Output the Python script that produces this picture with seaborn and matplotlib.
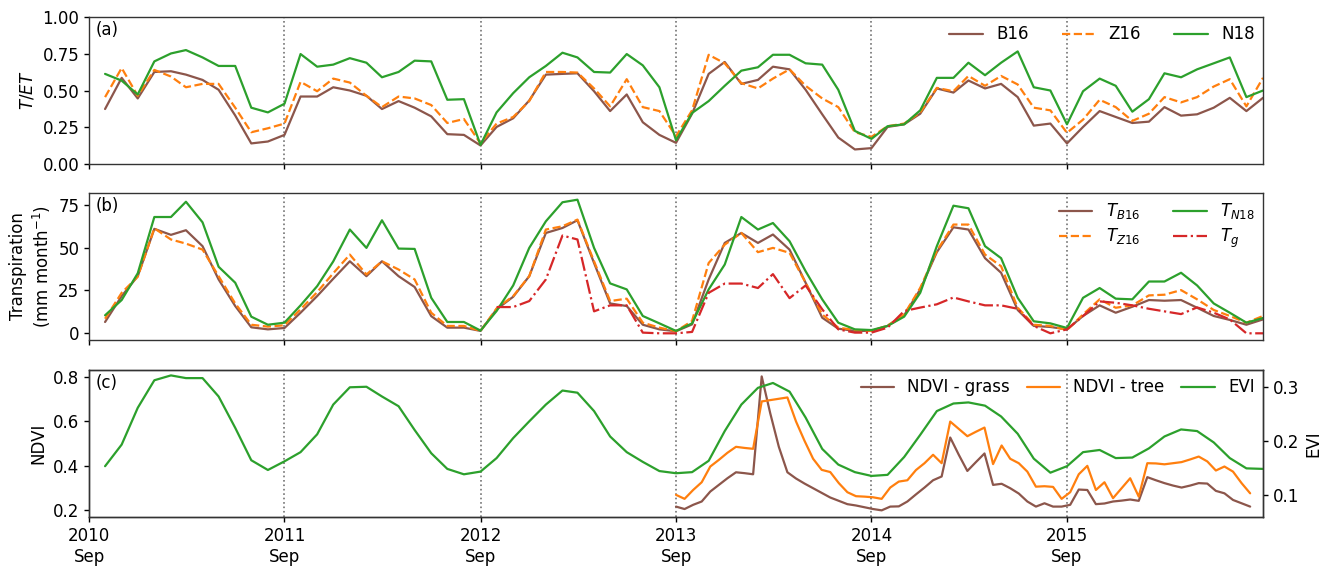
import numpy as np
import pandas as pd
import matplotlib
matplotlib.use("Agg")
import matplotlib.pyplot as plt
import seaborn as sns

# ---------------- data ----------------
# monthly series, Oct 2010 ... Sep 2016 (72 months)
tet_b16 = [0.374, 0.586, 0.446, 0.626, 0.631, 0.608, 0.572, 0.505, 0.33, 0.14, 0.153, 0.198,
           0.459, 0.459, 0.522, 0.50, 0.464, 0.374, 0.428, 0.383, 0.324, 0.203, 0.198, 0.126,
           0.252, 0.311, 0.432, 0.608, 0.613, 0.617, 0.495, 0.36, 0.473, 0.284, 0.198, 0.144,
           0.342, 0.613, 0.694, 0.545, 0.572, 0.662, 0.644, 0.505, 0.338, 0.18, 0.099, 0.108,
           0.252, 0.27, 0.342, 0.514, 0.486, 0.568, 0.514, 0.545, 0.455, 0.261, 0.275, 0.14,
           0.252, 0.36, 0.32, 0.279, 0.288, 0.387, 0.329, 0.338, 0.383, 0.45, 0.36, 0.45]
tet_z16 = [0.455, 0.653, 0.464, 0.64, 0.595, 0.522, 0.545, 0.545, 0.383, 0.216, 0.243, 0.275,
           0.559, 0.495, 0.581, 0.554, 0.464, 0.387, 0.459, 0.446, 0.401, 0.279, 0.306, 0.14,
           0.275, 0.32, 0.428, 0.626, 0.626, 0.622, 0.514, 0.392, 0.577, 0.387, 0.36, 0.189,
           0.365, 0.743, 0.685, 0.55, 0.514, 0.581, 0.644, 0.532, 0.446, 0.387, 0.216, 0.185,
           0.257, 0.275, 0.351, 0.518, 0.495, 0.599, 0.532, 0.599, 0.541, 0.383, 0.365, 0.212,
           0.302, 0.437, 0.387, 0.293, 0.342, 0.455, 0.419, 0.455, 0.527, 0.577, 0.392, 0.586]
tet_n18 = [0.613, 0.567, 0.473, 0.698, 0.752, 0.775, 0.725, 0.667, 0.667, 0.383, 0.351, 0.41,
           0.748, 0.662, 0.676, 0.72, 0.689, 0.59, 0.626, 0.703, 0.698, 0.437, 0.441, 0.13,
           0.351, 0.482, 0.59, 0.667, 0.757, 0.725, 0.626, 0.622, 0.748, 0.671, 0.522, 0.162,
           0.347, 0.428, 0.532, 0.635, 0.658, 0.743, 0.743, 0.685, 0.676, 0.505, 0.225, 0.171,
           0.257, 0.27, 0.365, 0.586, 0.586, 0.689, 0.604, 0.689, 0.766, 0.522, 0.5, 0.27,
           0.495, 0.581, 0.532, 0.356, 0.441, 0.617, 0.59, 0.644, 0.685, 0.725, 0.455, 0.5]

t_b16 = [6.6, 21.7, 33.3, 60.9, 57.4, 60.1, 50.8, 31.4, 15.9, 3.5, 2.3, 3.1,
         12, 21.7, 31.8, 42, 33.3, 42, 33.3, 27, 10, 3.3, 3.3, 1.4,
         14, 21.3, 33.3, 58.5, 61.4, 65.9, 41, 17.4, 15.9, 5, 2.3, 1.2,
         5.2, 31.4, 52.7, 58.5, 52.7, 57.6, 48.8, 29.5, 9.1, 2.7, 1.4, 1.4,
         4.3, 10.5, 25.6, 47.3, 61.8, 60.5, 43.8, 35.3, 13.6, 4.3, 3.7, 2.3,
         10.1, 16.3, 12, 15.5, 19.4, 19, 19.4, 14.9, 10.1, 7.8, 5, 8.1]
t_z16 = [8.5, 23.6, 33, 61.2, 54.7, 52.3, 48.8, 33.3, 17.4, 5, 3.9, 4.7,
         14, 24, 35, 45.9, 34.3, 42, 37.2, 31.4, 12, 4.3, 4.3, 1.4,
         14.5, 21.7, 33.3, 60.5, 62.4, 66.3, 42, 18.8, 20.2, 6.2, 3.3, 1.2,
         7.2, 41, 51.7, 58.5, 47.3, 49.8, 46.9, 29.5, 11, 3.3, 1.9, 1.4,
         4.5, 11, 26.5, 48, 63.4, 63.4, 45.9, 39.1, 14.9, 5, 4.3, 1.9,
         11, 19.8, 14.9, 16.3, 22.1, 22.5, 25.2, 19.8, 13.6, 10.1, 6.2, 10.1]
t_n18 = [10.5, 19.4, 35, 67.8, 67.8, 76.7, 64.7, 38.8, 29.5, 9.7, 5.0, 6.2,
         16.3, 27.5, 41.9, 60.5, 49.8, 65.9, 49.4, 49.2, 20.7, 6.6, 6.6, 1.6,
         13, 27.9, 49.8, 65.3, 76.4, 77.9, 49.8, 29.1, 25.6, 10.1, 5.8, 1.4,
         5.8, 25.6, 40.1, 67.8, 60.5, 64.3, 53.7, 36.2, 19.8, 6.2, 2.3, 1.9,
         4.3, 9.7, 23.6, 50.8, 74.4, 72.9, 50.8, 43.8, 20.7, 7, 5.8, 3.1,
         20.7, 26.4, 20.2, 19.8, 30.2, 30.2, 35.3, 27.9, 17.4, 12, 6.2, 8.9]
t_g = [np.nan] * 24 + [
         15.3, 15.3, 18.8, 31.4, 57, 54.7, 12.8, 16.3, 16.3, 0.4, 0, 0,
         0.8, 23.6, 29, 29, 26.4, 34.5, 20.5, 27.9, 14, 2.3, 0.4, 0.4,
         3.3, 13, 15, 16.9, 20.9, 18.6, 16.3, 16.3, 14.3, 4.3, 0, 2.3,
         10.1, 18.6, 17.8, 16.3, 14.3, 12.8, 11.2, 15.1, 12, 8.1, 0, 0]

evi = [0.153, 0.193, 0.261, 0.312, 0.321, 0.316, 0.316, 0.282, 0.224, 0.164, 0.146, 0.162,
       0.179, 0.212, 0.267, 0.299, 0.300, 0.282, 0.264, 0.220, 0.177, 0.148, 0.138, 0.143,
       0.168, 0.205, 0.236, 0.267, 0.293, 0.289, 0.255, 0.208, 0.179, 0.161, 0.144, 0.140,
       0.142, 0.163, 0.218, 0.267, 0.298, 0.307, 0.291, 0.243, 0.185, 0.156, 0.142, 0.135,
       0.137, 0.170, 0.211, 0.255, 0.269, 0.271, 0.265, 0.245, 0.213, 0.167, 0.141, 0.153,
       0.179, 0.183, 0.168, 0.169, 0.186, 0.208, 0.221, 0.218, 0.197, 0.168, 0.149, 0.148]

# 16-day NDVI composites from Sep 2013
ndvi_tree = [0.268, 0.250, 0.290, 0.325, 0.396, 0.426, 0.458, 0.485, 0.480, 0.476,
             0.690, 0.696, 0.702, 0.708, 0.600, 0.512, 0.431, 0.381, 0.371, 0.321,
             0.280, 0.262, 0.260, 0.257, 0.250, 0.301, 0.328, 0.334, 0.380, 0.411,
             0.449, 0.411, 0.599, 0.566, 0.533, 0.553, 0.572, 0.407, 0.491, 0.431,
             0.411, 0.373, 0.305, 0.307, 0.304, 0.250, 0.280, 0.361, 0.399, 0.290,
             0.325, 0.253, 0.298, 0.343, 0.260, 0.411, 0.410, 0.406, 0.411, 0.416,
             0.428, 0.441, 0.419, 0.378, 0.396, 0.373, 0.321, 0.275]
ndvi_grass = [0.215, 0.204, 0.223, 0.238, 0.283, 0.313, 0.343, 0.370, 0.366, 0.361,
              0.803, 0.636, 0.485, 0.370, 0.342, 0.319, 0.298, 0.277, 0.256, 0.241,
              0.226, 0.220, 0.212, 0.204, 0.198, 0.215, 0.216, 0.238, 0.270, 0.301,
              0.334, 0.351, 0.527, 0.449, 0.376, 0.416, 0.455, 0.313, 0.318, 0.298,
              0.274, 0.238, 0.215, 0.230, 0.215, 0.215, 0.223, 0.292, 0.290, 0.226,
              0.229, 0.238, 0.242, 0.247, 0.241, 0.348, 0.334, 0.321, 0.310, 0.301,
              0.310, 0.321, 0.319, 0.286, 0.275, 0.245, 0.230, 0.215]

tick_years = [2010, 2011, 2012, 2013, 2014, 2015]
tick_labels = [f"{y}\nSep" for y in tick_years]

months = pd.date_range("2010-10-01", periods=len(tet_b16), freq="MS")
ndvi_dates = pd.Timestamp("2013-09-01") + pd.to_timedelta(np.arange(len(ndvi_tree)) * 16, unit="D")
tick_dates = [pd.Timestamp(f"{y}-09-01") for y in tick_years]

# ---------------- style ----------------
sns.set_theme(style="ticks")
plt.rcParams.update({
    "font.family": ["DejaVu Sans"],
    "font.size": 12,
    "axes.labelsize": 12,
    "xtick.labelsize": 12,
    "ytick.labelsize": 12,
    "legend.fontsize": 12,
    "axes.linewidth": 1.0,
    "axes.labelpad": 4.0,
    "xtick.major.size": 3.5,
    "ytick.major.size": 3.5,
    "xtick.major.pad": 3.5,
    "ytick.major.pad": 3.5,
    "xtick.major.width": 1.0,
    "ytick.major.width": 1.0,
    "text.color": "black",
    "axes.labelcolor": "black",
    "xtick.color": "black",
    "ytick.color": "black",
    "axes.edgecolor": "0.2",
})

BROWN, ORANGE, GREEN, RED = "#8c564b", "#ff7f0e", "#2ca02c", "#d62728"
LW = 1.6

W, H = 1325, 566
fig = plt.figure(figsize=(W / 100, H / 100), dpi=100)
left, right = 89 / W, 1263 / W
def box(top, bottom):
    return [left, 1 - bottom / H, right - left, (bottom - top) / H]

ax1 = fig.add_axes(box(17, 164))
ax2 = fig.add_axes(box(193, 340))
ax3 = fig.add_axes(box(370, 517))

xlim = (pd.Timestamp("2010-09-01"), pd.Timestamp("2016-09-01"))

# ---- panel (a)
sns.lineplot(x=months, y=tet_b16, ax=ax1, color=BROWN, lw=LW, label="B16", legend=False)
sns.lineplot(x=months, y=tet_z16, ax=ax1, color=ORANGE, lw=LW, linestyle="--", label="Z16", legend=False)
sns.lineplot(x=months, y=tet_n18, ax=ax1, color=GREEN, lw=LW, label="N18", legend=False)
ax1.set_ylim(0, 1)
ax1.set_yticks([0, 0.25, 0.5, 0.75, 1.0])
ax1.set_ylabel("$T/ET$")
ax1.legend(loc="upper right", ncol=3, frameon=False, borderaxespad=0.1)

# ---- panel (b)
sns.lineplot(x=months, y=t_b16, ax=ax2, color=BROWN, lw=LW, label="$T_{B16}$", legend=False)
sns.lineplot(x=months, y=t_z16, ax=ax2, color=ORANGE, lw=LW, linestyle="--", label="$T_{Z16}$", legend=False)
sns.lineplot(x=months, y=t_n18, ax=ax2, color=GREEN, lw=LW, label="$T_{N18}$", legend=False)
sns.lineplot(x=months, y=t_g, ax=ax2, color=RED, lw=LW, linestyle="-.", label="$T_g$", legend=False)
ax2.set_ylim(-3.9, 81.8)
ax2.set_yticks([0, 25, 50, 75])
ax2.set_ylabel("Transpiration\n(mm month$^{-1}$)")
ax2.legend(loc="upper right", ncol=2, frameon=False, borderaxespad=0.1,
           labelspacing=0.3, columnspacing=2.0)

# ---- panel (c)
ax3b = ax3.twinx()
sns.lineplot(x=ndvi_dates, y=ndvi_grass, ax=ax3, color=BROWN, lw=LW, legend=False)
sns.lineplot(x=ndvi_dates, y=ndvi_tree, ax=ax3, color=ORANGE, lw=LW, legend=False)
sns.lineplot(x=months, y=evi, ax=ax3b, color=GREEN, lw=LW, legend=False)
ax3.set_ylim(0.168, 0.832)
ax3.set_yticks([0.2, 0.4, 0.6, 0.8])
ax3.set_ylabel("NDVI")
ax3b.set_ylim(0.059, 0.331)
ax3b.set_yticks([0.1, 0.2, 0.3])
ax3b.set_ylabel("EVI")
h = [ax3.lines[0], ax3.lines[1], ax3b.lines[0]]
ax3b.legend(h, ["NDVI - grass", "NDVI - tree", "EVI"], loc="upper right", ncol=3,
            frameon=False, borderaxespad=0.1, columnspacing=1.0)

for ax, lab in zip([ax1, ax2, ax3], ["(a)", "(b)", "(c)"]):
    ax.set_xlim(*xlim)
    ax.set_xticks(tick_dates)
    for d in tick_dates[1:]:
        ax.axvline(d, color="0.45", ls=":", lw=1.2, zorder=0)
    ax.text(0.006, 0.91, lab, transform=ax.transAxes, va="center", ha="left")
    ax.set_xlabel("")
ax3b.set_xlim(*xlim)
ax1.set_xticklabels([])
ax2.set_xticklabels([])
ax3.set_xticklabels(tick_labels)
ax3.set_xlabel("")

fig.savefig("out.png", dpi=100)
